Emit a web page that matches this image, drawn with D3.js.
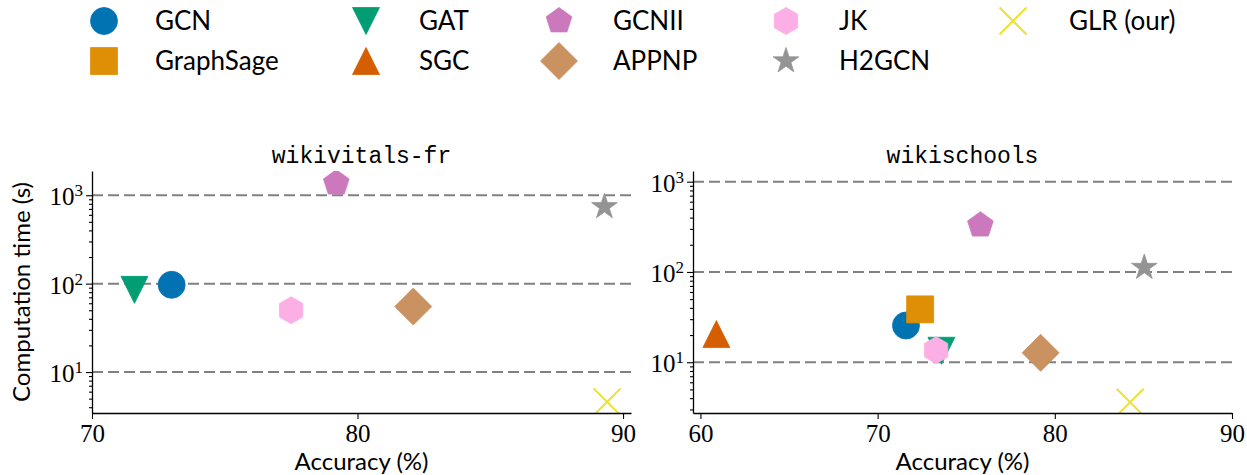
<!DOCTYPE html>
<html>
<head>
<meta charset="utf-8">
<script src="https://cdn.jsdelivr.net/npm/d3@7"></script>
<style>
  body { margin: 0; background: #fff; }
  svg { display: block; }
  .tick-serif text { font-family: "Liberation Serif", serif; font-size: 25px; fill: #000; }
</style>
</head>
<body>
<svg id="chart"></svg>
<script>
// methods, in legend / drawing order
const methods = ['GCN', 'GraphSage', 'GAT', 'SGC', 'GCNII', 'APPNP', 'JK', 'H2GCN', 'GLR (our)'];
const colors = ['#0173b2', '#de8f05', '#029e73', '#d55e00', '#cc78bc', '#ca9161', '#fbafe4', '#949494', '#ece133'];
const shapes = ['circle', 'square', 'triangleDown', 'triangleUp', 'pentagon', 'diamond', 'hexagon', 'star', 'x'];

// wikivitals-fr (null = not reported)
const frAccuracy = [73.0, null, 71.6, null, 79.2, 82.1, 77.5, 89.3, 89.4];
const frTime = [97, null, 85, null, 1370, 55, 50, 740, 4.6];

// wikischools
const schoolsAccuracy = [71.6, 72.4, 73.6, 60.9, 75.8, 79.2, 73.3, 85.05, 84.25];
const schoolsTime = [25.5, 38.5, 13.4, 20.5, 330, 12.7, 13.6, 112, 3.6];

const xTicks = [[70, 80, 90], [60, 70, 80, 90]];
const yTicks = [10, 100, 1000];

const W = 1247, H = 475;
const svg = d3.select('#chart').attr('width', W).attr('height', H);

// marker paths, roughly like matplotlib's markers (ms = marker size in px)
function markerPath(shape, ms) {
    let r = ms / 2;
    let poly = (n, rad, rot) => d3.range(n).map(i => {
        let a = rot + i * 2 * Math.PI / n;
        return [rad * Math.sin(a), -rad * Math.cos(a)];
    });
    let toPath = pts => 'M' + pts.map(p => p[0].toFixed(2) + ',' + p[1].toFixed(2)).join('L') + 'Z';
    switch (shape) {
        case 'circle': return d3.symbol(d3.symbolCircle, Math.PI * r * r)();
        case 'square': return toPath([[-r, -r], [r, -r], [r, r], [-r, r]]);
        case 'triangleUp': return toPath([[0, -r], [r, r], [-r, r]]);
        case 'triangleDown': return toPath([[0, r], [r, -r], [-r, -r]]);
        case 'pentagon': return toPath(poly(5, r, 0));
        case 'hexagon': return toPath(poly(6, r, 0));
        case 'diamond': return toPath([[0, -r * 1.37], [r * 1.37, 0], [0, r * 1.37], [-r * 1.37, 0]]);
        case 'star': {
            let pts = [];
            for (let i = 0; i < 10; i++) {
                let rad = i % 2 === 0 ? r : r * 0.381966;
                let a = i * Math.PI / 5;
                pts.push([rad * Math.sin(a), -rad * Math.cos(a)]);
            }
            return toPath(pts);
        }
        case 'x': return `M${-r},${-r}L${r},${r}M${r},${-r}L${-r},${r}`;
    }
}

function drawMarker(g, shape, color, ms) {
    let p = g.append('path').attr('d', markerPath(shape, ms));
    if (shape === 'x') {
        p.attr('fill', 'none').attr('stroke', color).attr('stroke-width', 2);
    } else {
        p.attr('fill', color).attr('stroke', color).attr('stroke-width', 0.8);
    }
    return p;
}

const MS = 27;

// ---------- legend ----------
const legMarkerX = [104, 366, 559, 786, 1013];
const legTextX = [155, 419, 613, 839, 1069];
const legRowY = [21, 61];

methods.forEach((m, i) => {
    let col = Math.floor(i / 2), row = i % 2;
    let g = svg.append('g').attr('transform', `translate(${legMarkerX[col]},${legRowY[row]})`);
    drawMarker(g, shapes[i], colors[i], MS);
    svg.append('text')
        .attr('x', legTextX[col])
        .attr('y', legRowY[row] + 9)
        .attr('font-family', 'Lato, sans-serif')
        .attr('font-size', 26)
        .text(m);
});

// ---------- panels ----------
function drawPanel(cfg) {
    let vis = {};
    vis.width = cfg.x1 - cfg.x0;
    vis.height = cfg.y1 - cfg.y0;

    vis.chart = svg.append('g').attr('transform', `translate(${cfg.x0},${cfg.y0})`);

    vis.xScale = d3.scaleLinear().domain(cfg.xDomain).range([0, vis.width]);
    vis.yScale = d3.scaleLog().domain(cfg.yDomain).range([vis.height, 0]);

    // dashed horizontal grid at decades
    vis.chart.selectAll('.grid')
        .data(yTicks)
        .join('line')
        .attr('x1', 0).attr('x2', vis.width)
        .attr('y1', d => vis.yScale(d)).attr('y2', d => vis.yScale(d))
        .attr('stroke', '#808080')
        .attr('stroke-width', 2)
        .attr('stroke-dasharray', '11,5');

    // clip for markers
    let clipId = 'clip-' + cfg.id;
    svg.append('clipPath').attr('id', clipId)
        .append('rect').attr('x', 0).attr('y', 0).attr('width', vis.width).attr('height', vis.height);

    let pts = vis.chart.append('g').attr('clip-path', `url(#${clipId})`);
    methods.forEach((m, i) => {
        if (cfg.acc[i] == null) return;
        let g = pts.append('g')
            .attr('transform', `translate(${vis.xScale(cfg.acc[i])},${vis.yScale(cfg.time[i])})`);
        drawMarker(g, shapes[i], colors[i], MS);
    });

    // x axis
    vis.xAxisGroup = vis.chart.append('g')
        .attr('class', 'tick-serif')
        .attr('transform', `translate(0,${vis.height})`)
        .call(d3.axisBottom(vis.xScale).tickValues(cfg.xTicks).tickSize(6).tickPadding(5).tickSizeOuter(0));

    // y minor ticks
    let lo = cfg.yDomain[0], hi = cfg.yDomain[1];
    let minor = [];
    for (let e = 0; e <= 3; e++) {
        for (let k = 2; k <= 9; k++) {
            let v = k * Math.pow(10, e);
            if (v >= lo && v <= hi) minor.push(v);
        }
    }
    vis.chart.append('g')
        .call(d3.axisLeft(vis.yScale).tickValues(minor).tickSize(3).tickFormat('').tickSizeOuter(0))
        .call(g => g.select('.domain').remove());

    // y major ticks with 10^n labels
    vis.yAxisGroup = vis.chart.append('g')
        .attr('class', 'tick-serif')
        .call(d3.axisLeft(vis.yScale).tickValues(yTicks).tickSize(6).tickPadding(6).tickFormat('').tickSizeOuter(0));
    vis.yAxisGroup.selectAll('.tick text').each(function (d) {
        let t = d3.select(this);
        t.append('tspan').text('10');
        t.append('tspan').attr('dy', -9).attr('font-size', 17).text(Math.round(Math.log10(d)));
    }).attr('dy', '0.38em').attr('x', -9);

    vis.chart.selectAll('.domain').attr('stroke', '#000').attr('stroke-width', 1.3);
    vis.chart.selectAll('.tick line').attr('stroke', '#000').attr('stroke-width', 1.1);

    // title
    vis.chart.append('text')
        .attr('x', vis.width / 2).attr('y', -8)
        .attr('text-anchor', 'middle')
        .attr('font-family', '"Liberation Mono", monospace')
        .attr('font-size', 23)
        .text(cfg.title);

    // x label
    vis.chart.append('text')
        .attr('x', vis.width / 2).attr('y', vis.height + 57)
        .attr('text-anchor', 'middle')
        .attr('font-family', 'Lato, sans-serif')
        .attr('font-size', 24)
        .text('Accuracy (%)');

    if (cfg.yLabel) {
        vis.chart.append('text')
            .attr('transform', `translate(${-62},${vis.height / 2}) rotate(-90)`)
            .attr('text-anchor', 'middle')
            .attr('font-family', 'Lato, sans-serif')
            .attr('font-size', 24)
            .text(cfg.yLabel);
    }
    return vis;
}

drawPanel({
    id: 'fr', title: 'wikivitals-fr', yLabel: 'Computation time (s)',
    x0: 92, x1: 631, y0: 171, y1: 413,
    xDomain: [70, 90.3], yDomain: [3.44, 1880], xTicks: xTicks[0],
    acc: frAccuracy, time: frTime
});

drawPanel({
    id: 'schools', title: 'wikischools', yLabel: null,
    x0: 693, x1: 1232, y0: 171, y1: 413,
    xDomain: [59.58, 90], yDomain: [2.74, 1313], xTicks: xTicks[1],
    acc: schoolsAccuracy, time: schoolsTime
});
</script>
</body>
</html>
